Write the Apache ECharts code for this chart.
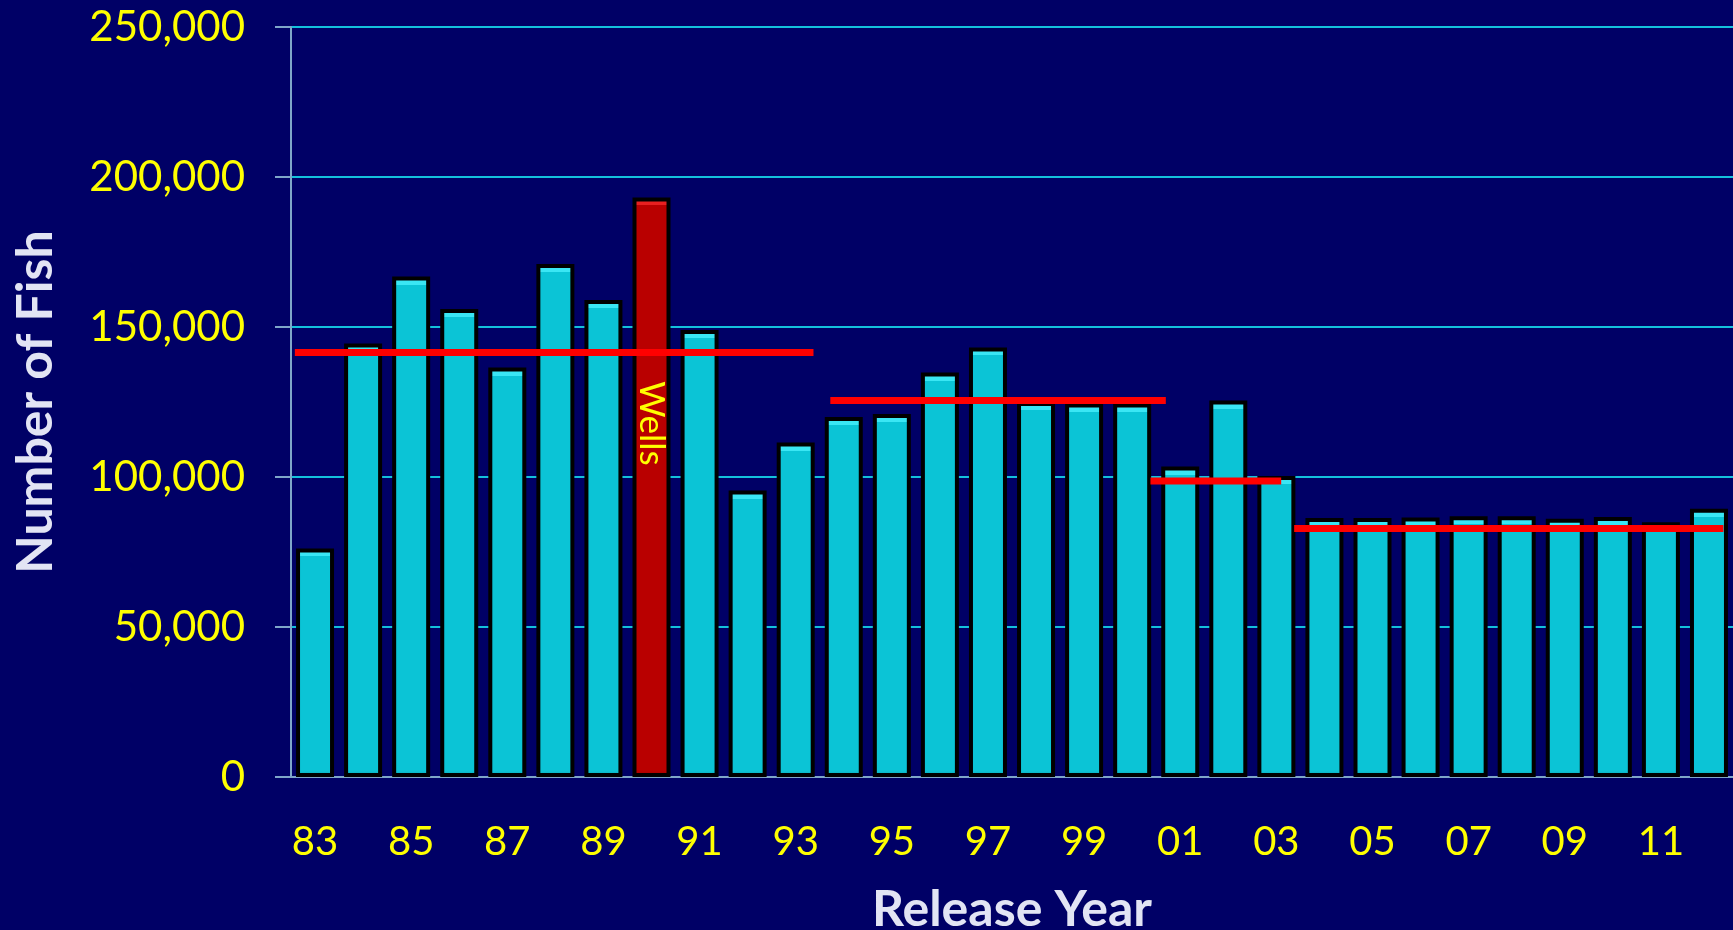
<!DOCTYPE html>
<html>
<head>
<meta charset="utf-8">
<script src="https://cdn.jsdelivr.net/npm/echarts@6/dist/echarts.min.js"></script>
<style>
  html, body { margin: 0; padding: 0; background: #000066; }
  #chart { width: 1733px; height: 930px; }
</style>
</head>
<body>
<div id="chart"></div>
<script>
const years = ['83', '84', '85', '86', '87', '88', '89', '90', '91', '92', '93', '94', '95', '96', '97',
  '98', '99', '00', '01', '02', '03', '04', '05', '06', '07', '08', '09', '10', '11', '12']
const fish = [76200, 144500, 166800, 156000, 136500, 171000, 159000, 193200, 149000, 95500,
  111500, 120000, 121000, 134800, 143200, 125000, 124500, 124500, 103500, 125500,
  100300, 86300, 86300, 86500, 86900, 86900, 86100, 86700, 84900, 89400]
const wellsYear = '90'
// average lines: value + span in category-index units
const avgValue = [141500, 125500, 98700, 82800]
const avgFrom = [-0.42, 10.72, 17.38, 20.37]
const avgTo = [10.37, 17.7, 20.1, 29.3]

const font = 'Lato'
const yMax = 250000
const plotH = 750
const chart = echarts.init(document.getElementById('chart'))

// bar fill with a light bevel on top and a dark one at the bottom
function bevel (v, base, light, dark) {
  const h = v / yMax * plotH
  const t = Math.min(0.5, 8 / h)
  const b = Math.min(0.5, 6 / h)
  return new echarts.graphic.LinearGradient(0, 0, 0, 1, [
    { offset: 0, color: light },
    { offset: t, color: light },
    { offset: t + 0.0001, color: base },
    { offset: 1 - b, color: base },
    { offset: 1, color: dark }
  ])
}

const barData = fish.map((v, i) => {
  if (years[i] !== wellsYear) {
    return { value: v, itemStyle: { color: bevel(v, '#0bc4d6', '#3ae6f4', '#089aab') } }
  }
  return {
    value: v,
    itemStyle: { color: bevel(v, '#b90000', '#e82020', '#900000') },
    label: {
      show: true,
      formatter: 'Wells',
      position: ['50%', '39%'],
      align: 'center',
      verticalAlign: 'middle',
      rotate: -90,
      color: '#ffff00',
      fontFamily: font,
      fontSize: 35
    }
  }
})

chart.setOption({
  backgroundColor: '#000066',
  animation: false,
  grid: { left: 291, top: 27, right: 0, bottom: 153, outerBoundsMode: 'none', containLabel: false },
  xAxis: [
    {
      type: 'category',
      data: years,
      name: 'Release Year',
      nameLocation: 'middle',
      nameGap: 108,
      nameTextStyle: { color: '#e2e4f4', fontFamily: font, fontWeight: 'bold', fontSize: 50 },
      axisLine: { lineStyle: { color: '#7fa6c9', width: 2 } },
      axisTick: { show: false },
      axisLabel: {
        interval: 1,
        margin: 45,
        color: '#ffff00',
        fontFamily: font,
        fontSize: 40
      }
    },
    { type: 'value', min: -0.5, max: 29.5, show: false }
  ],
  yAxis: {
    type: 'value',
    min: 0,
    max: yMax,
    interval: 50000,
    name: 'Number of Fish',
    nameLocation: 'middle',
    nameGap: 230,
    nameTextStyle: { color: '#e2e4f4', fontFamily: font, fontWeight: 'bold', fontSize: 50 },
    axisLine: { show: true, onZero: false, lineStyle: { color: '#7fa6c9', width: 2 } },
    axisTick: { show: true, length: 16, lineStyle: { color: '#7fa6c9', width: 2 } },
    axisLabel: {
      margin: 46,
      color: '#ffff00',
      fontFamily: font,
      fontSize: 42,
      formatter: v => v.toLocaleString('en-US')
    },
    splitLine: { lineStyle: { color: '#14c0dc', width: 2 } }
  },
  series: [
    {
      type: 'bar',
      data: barData,
      barWidth: 38,
      itemStyle: { borderColor: '#000000', borderWidth: 4 },
      z: 2
    },
    ...avgValue.map((v, k) => ({
      type: 'line',
      xAxisIndex: 1,
      data: [[avgFrom[k], v], [avgTo[k], v]],
      showSymbol: false,
      symbol: 'none',
      lineStyle: { color: '#ff0000', width: 7, cap: 'butt' },
      z: 5
    }))
  ]
})
</script>
</body>
</html>
